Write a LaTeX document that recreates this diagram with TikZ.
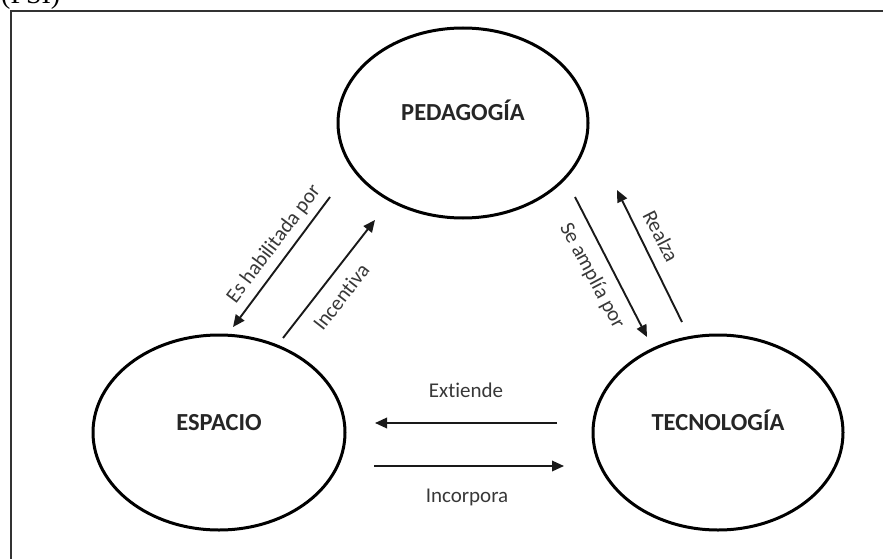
\documentclass[tikz,border=0pt]{standalone}
\usepackage{fontspec}
\setmainfont{Carlito}[Ligatures={NoCommon}]
\newfontfamily\psifont{Liberation Serif}
\usetikzlibrary{shapes.geometric,arrows.meta}
\tikzset{
  concept/.style={ellipse, draw=black, line width=3pt, minimum width=250pt, minimum height=194pt, inner sep=0pt},
  ctitle/.style={font=\fontsize{24.5}{24.5}\selectfont\bfseries, text=black!85, text height=16pt, text depth=0pt, inner sep=0pt, yshift=10pt},
  rel/.style={line width=1.9pt, draw=black!90, -{Triangle[length=12pt,width=10.5pt]}},
  rlabel/.style={font=\fontsize{21}{21}\selectfont, text=black!78, inner sep=0pt},
  frameline/.style={line width=2pt, draw=black!80}
}
\begin{document}
\begin{tikzpicture}[x=1pt,y=-1pt]
\useasboundingbox (0,0) rectangle (883,559);
% frame and cut caption
\draw[frameline] (10.5,575) -- (10.5,11) -- (900,11);
\node[anchor=base west, inner sep=0pt, font=\psifont\fontsize{28}{28}\selectfont] (psi) at (1,4) {(PSI)};
% concepts
\node[concept, minimum height=190pt, label={[ctitle]center:PEDAGOGÍA}] (ped) at (463,123) {};
\node[concept, minimum width=252pt, minimum height=195pt, label={[ctitle]center:ESPACIO}] (esp) at (219,432.5) {};
\node[concept, minimum height=195pt, label={[ctitle]center:TECNOLOGÍA}] (tec) at (718,432.5) {};
% arrow end points
\coordinate (ehA) at (330,197); \coordinate (ehB) at (233,327);
\coordinate (inA) at (283,338); \coordinate (inB) at (375,220);
\coordinate (saA) at (575,197); \coordinate (saB) at (647,337);
\coordinate (reA) at (682,322); \coordinate (reB) at (617,190);
\coordinate (exA) at (557,423); \coordinate (exB) at (375,423);
\coordinate (icA) at (374,466); \coordinate (icB) at (564,466);
% relations
\draw[rel] (ehA) -- (ehB);
\draw[rel] (inA) -- (inB);
\draw[rel] (saA) -- (saB);
\draw[rel] (reA) -- (reB);
\draw[rel] (exA) -- (exB);
\draw[rel] (icA) -- (icB);
% relation labels
\node[rlabel, rotate=53] (lEh) at (274,244) {Es habilitada por};
\node[rlabel, rotate=52] (lIn) at (341,297) {Incentiva};
\node[rlabel, rotate=-62] (lSa) at (592,276) {Se amplía por};
\node[rlabel, rotate=-63] (lRe) at (661,236) {Realza};
\node[rlabel] (lEx) at (466,390) {Extiende};
\node[rlabel] (lIc) at (467,497) {Incorpora};
\end{tikzpicture}
\end{document}
